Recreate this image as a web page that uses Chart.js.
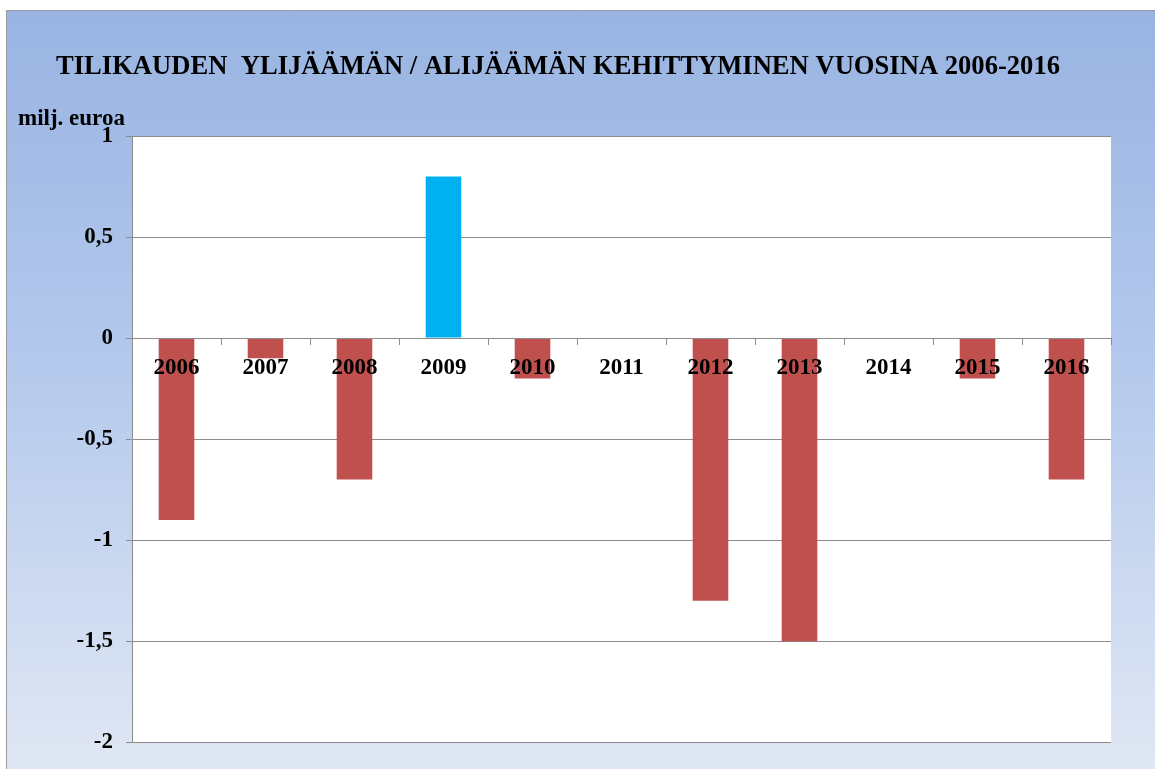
<!DOCTYPE html>
<html>
<head>
<meta charset="utf-8">
<script src="https://cdn.jsdelivr.net/npm/chart.js@4"></script>
<style>
  html, body { margin: 0; padding: 0; width: 1155px; height: 769px; overflow: hidden; background: #fff; }
  #wrap { position: absolute; left: 0; top: 0; width: 1155px; height: 769px; }
</style>
</head>
<body>
<div id="wrap"><canvas id="c" width="1155" height="769"></canvas></div>
<script>
const titleText = "TILIKAUDEN  YLIJÄÄMÄN / ALIJÄÄMÄN KEHITTYMINEN VUOSINA 2006-2016";
const unitText = "milj. euroa";
const years = ["2006","2007","2008","2009","2010","2011","2012","2013","2014","2015","2016"];
const values = [-0.9, -0.1, -0.7, 0.8, -0.2, 0, -1.3, -1.5, 0, -0.2, -0.7];
const yMin = -2, yMax = 1, yStep = 0.5;

const positiveColor = "#00b0f0";
const negativeColor = "#c0504d";
const FONT = "'Liberation Serif', 'Times New Roman', serif";

const decor = {
  id: "decor",
  beforeDraw(chart) {
    const { ctx, chartArea: a, width, height } = chart;
    ctx.save();
    const g = ctx.createLinearGradient(0, 10, 0, height);
    g.addColorStop(0, "#99b4e2");
    g.addColorStop(0.45, "#b3c8ec");
    g.addColorStop(1, "#e0e7f4");
    ctx.fillStyle = g;
    ctx.fillRect(6, 10, width - 6, height - 10);
    ctx.strokeStyle = "#9a9a9a";
    ctx.lineWidth = 1;
    ctx.beginPath();
    ctx.moveTo(6.5, height);
    ctx.lineTo(6.5, 10.5);
    ctx.lineTo(width, 10.5);
    ctx.stroke();
    ctx.fillStyle = "#ffffff";
    ctx.fillRect(a.left, a.top, a.right - a.left, a.bottom - a.top);
    ctx.restore();
  },
  afterDraw(chart) {
    const ctx = chart.ctx;
    ctx.save();
    ctx.fillStyle = "#000";
    ctx.textBaseline = "alphabetic";
    ctx.textAlign = "left";
    ctx.font = "bold 26.6px " + FONT;
    ctx.fillText(titleText, 56, 74);
    ctx.font = "bold 23px " + FONT;
    ctx.fillText(unitText, 18, 125);
    ctx.restore();
  }
};

new Chart(document.getElementById("c"), {
  type: "bar",
  data: {
    labels: years,
    datasets: [{
      data: values,
      backgroundColor: values.map(v => v >= 0 ? positiveColor : negativeColor),
      borderWidth: 0,
      categoryPercentage: 1,
      barPercentage: 0.4
    }]
  },
  options: {
    responsive: false,
    animation: false,
    layout: { padding: { top: 136, left: 0, right: 44, bottom: 26 } },
    plugins: { legend: { display: false }, title: { display: false }, tooltip: { enabled: false } },
    scales: {
      x: {
        position: { y: 0 },
        offset: true,
        grid: { display: true, drawOnChartArea: false, drawTicks: true, tickLength: 6, color: "#8c8c8c", offset: true, z: 1 },
        border: { display: true, color: "#8c8c8c", width: 1, z: 1 },
        ticks: { z: 2, color: "#000", padding: 10, maxRotation: 0, font: { family: FONT, size: 23, weight: "bold" } }
      },
      y: {
        min: yMin, max: yMax,
        afterFit(scale) { scale.width = 132; },
        grid: { color: "#8c8c8c", tickLength: 6, drawTicks: true },
        border: { display: true, color: "#8c8c8c" },
        ticks: {
          stepSize: yStep, color: "#000", padding: 13,
          font: { family: FONT, size: 23, weight: "bold" },
          callback: v => String(v).replace(".", ",")
        }
      }
    }
  },
  plugins: [decor]
});
</script>
</body>
</html>
